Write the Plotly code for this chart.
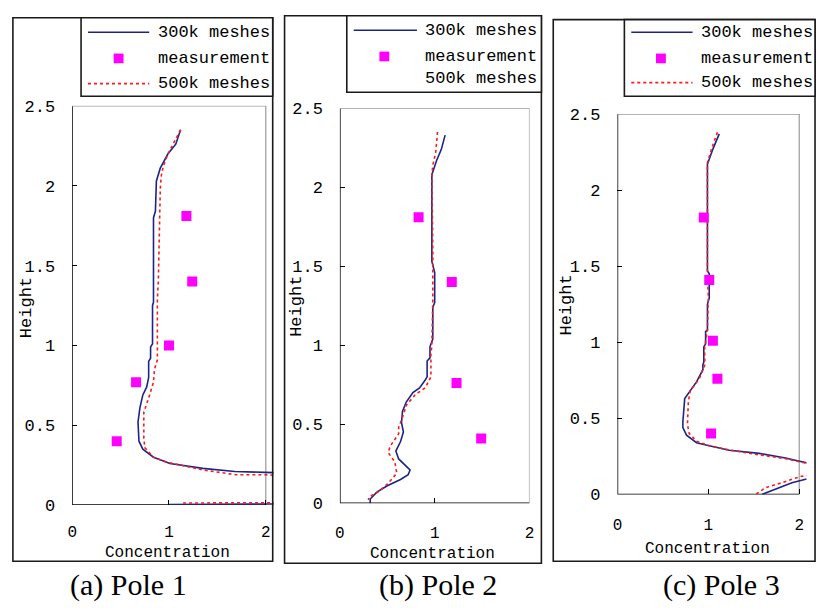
import plotly.graph_objects as go

W, H = 822, 613

# ---------------- data ----------------
# Pole 1
a_blue_c = [1.12, 1.07, 0.99, 0.91, 0.87, 0.86, 0.84, 0.84, 0.83, 0.83, 0.81, 0.81, 0.79, 0.79, 0.77, 0.73, 0.70, 0.68,
            0.69, 0.73, 0.84, 1.01, 1.35, 1.68, 1.99, 2.30, 2.50, 2.30, 2.08, 1.50, 1.00]
a_blue_h = [2.35, 2.26, 2.20, 2.11, 2.03, 1.84, 1.80, 1.27, 1.25, 1.01, 0.99, 0.92, 0.90, 0.80, 0.74, 0.69, 0.61, 0.52,
            0.40, 0.35, 0.30, 0.26, 0.23, 0.21, 0.205, 0.20, 0.10, 0.008, 0.007, 0.005, 0.004]
a_red_c = [1.12, 1.05, 0.99, 0.94, 0.92, 0.91, 0.90, 0.89, 0.88, 0.88, 0.85, 0.84, 0.80, 0.77, 0.74, 0.74, 0.75, 0.84,
           0.97, 1.35, 1.69, 1.99, 2.30, 2.50, 2.30, 2.08, 1.14]
a_red_h = [2.35, 2.27, 2.20, 2.12, 2.06, 1.98, 1.52, 1.40, 1.29, 0.91, 0.85, 0.77, 0.69, 0.63, 0.58, 0.42, 0.36, 0.30,
           0.27, 0.22, 0.19, 0.19, 0.18, 0.10, 0.016, 0.015, 0.013]
a_meas_c = [0.46, 0.66, 1.00, 1.24, 1.18]
a_meas_h = [0.40, 0.77, 1.00, 1.40, 1.81]

# Pole 2
b_blue_c = [1.11, 1.07, 1.02, 0.99, 0.97, 0.97, 1.00, 1.00, 0.98, 0.98, 0.95, 0.95, 0.92, 0.92, 0.90, 0.84, 0.77, 0.70,
            0.66, 0.65, 0.67, 0.64, 0.59, 0.62, 0.69, 0.74, 0.72, 0.64, 0.50, 0.39, 0.32, 0.32]
b_blue_h = [2.33, 2.24, 2.17, 2.12, 2.08, 1.53, 1.46, 1.27, 1.24, 1.04, 0.99, 0.92, 0.90, 0.80, 0.78, 0.73, 0.70, 0.64,
            0.58, 0.51, 0.45, 0.39, 0.33, 0.28, 0.24, 0.21, 0.18, 0.15, 0.11, 0.07, 0.026, 0.0]
b_red_c = [1.03, 1.02, 1.01, 0.98, 0.97, 0.98, 0.98, 0.97, 0.96, 0.96, 0.93, 0.90, 0.80, 0.70, 0.67, 0.62, 0.62, 0.53,
           0.51, 0.58, 0.60, 0.50, 0.40, 0.31, 0.30]
b_red_h = [2.35, 2.28, 2.22, 2.14, 2.08, 1.60, 1.30, 1.00, 0.94, 0.80, 0.76, 0.73, 0.69, 0.62, 0.56, 0.48, 0.44, 0.36,
           0.32, 0.26, 0.19, 0.12, 0.07, 0.04, 0.02]
b_meas_c = [1.49, 1.23, 1.18, 0.83]
b_meas_h = [0.41, 0.76, 1.40, 1.81]

# Pole 3
c_blue_c = [1.12, 1.05, 0.99, 0.99, 1.01, 1.01, 0.99, 0.99, 0.97, 0.97, 0.95, 0.95, 0.94, 0.94, 0.87, 0.78, 0.74, 0.72,
            0.72, 0.76, 0.87, 1.01, 1.23, 1.56, 1.85, 1.99, 2.07, 2.30, 2.30, 2.07, 1.92, 1.78, 1.59]
c_blue_h = [2.37, 2.27, 2.17, 1.47, 1.45, 1.29, 1.25, 1.08, 1.07, 0.99, 0.97, 0.87, 0.85, 0.82, 0.74, 0.66, 0.63, 0.48,
            0.44, 0.39, 0.34, 0.32, 0.29, 0.27, 0.24, 0.22, 0.21, 0.18, 0.12, 0.10, 0.077, 0.045, 0.0]
c_red_c = [1.10, 1.04, 0.99, 0.99, 1.00, 0.99, 0.96, 0.96, 0.90, 0.80, 0.78, 0.77, 0.79, 0.87, 1.01, 1.25, 1.56, 1.85,
           2.04, 2.30, 2.30, 2.03, 1.92, 1.81, 1.63, 1.52]
c_red_h = [2.38, 2.28, 2.18, 1.45, 1.30, 1.08, 0.97, 0.85, 0.76, 0.68, 0.61, 0.46, 0.40, 0.35, 0.32, 0.29, 0.26, 0.235,
           0.21, 0.18, 0.14, 0.12, 0.10, 0.077, 0.045, 0.0]
c_meas_c = [1.03, 1.10, 1.05, 1.01, 0.95]
c_meas_h = [0.40, 0.76, 1.01, 1.41, 1.82]

x_tickvals = [0, 1, 2]
x_ticktext = ["0", "1", "2"]
y_tickvals = [0, 0.5, 1, 1.5, 2, 2.5]
y_ticktext = ["0", "0.5", "1", "1.5", "2", "2.5"]
series_names = ["300k meshes", "measurement", "500k meshes"]
captions = ["(a) Pole 1", "(b) Pole 2", "(c) Pole 3"]

BLUE = "#1c2488"
RED = "#ff1a1a"
MAG = "#ff00ff"
MONO = "Liberation Mono"
SERIF = "Liberation Serif"


def pxx(x):
    return x / W


def pyy(y):
    return 1 - y / H


panels = [
    dict(data=(a_blue_c, a_blue_h, a_red_c, a_red_h, a_meas_c, a_meas_h),
         x0=68, kx=98, y0=513, ky=164.8, xmax=2.08, xstand=15,
         frame=(8, 10, 271, 571), legend=(77, 10, 271, 91), leg_x=(84, 146, 115, 153),
         leg_y=(25, 52, 78), red_glyph=True, height_pos=(22, 309), conc_pos=(164, 562),
         cap_pos=(125, 595)),
    dict(data=(b_blue_c, b_blue_h, b_red_c, b_red_h, b_meas_c, b_meas_h),
         x0=339, kx=96, y0=511, ky=163, xmax=2.0, xstand=18,
         frame=(283, 8, 543, 573), legend=(346, 8, 543, 87), leg_x=(353, 417, 384, 423),
         leg_y=(23, 50, 73), red_glyph=False, height_pos=(295, 308), conc_pos=(433, 563),
         cap_pos=(438, 595)),
    dict(data=(c_blue_c, c_blue_h, c_red_c, c_red_h, c_meas_c, c_meas_h),
         x0=620, kx=92, y0=502, ky=157, xmax=2.08, xstand=19,
         frame=(555, 12, 820, 571), legend=(627, 12, 820, 91), leg_x=(634, 696, 664, 703),
         leg_y=(25, 52, 77), red_glyph=True, height_pos=(568, 307), conc_pos=(711, 558),
         cap_pos=(725, 595)),
]

fig = go.Figure()
shapes = []
annotations = []
layout = {}

for i, p in enumerate(panels):
    n = "" if i == 0 else str(i + 1)
    xa, ya = "x" + n, "y" + n
    bc, bh, rc, rh, mc, mh = p["data"]
    fig.add_trace(go.Scatter(x=bc, y=bh, mode="lines", line=dict(color=BLUE, width=1.6),
                             xaxis=xa, yaxis=ya, showlegend=False, name=series_names[0]))
    fig.add_trace(go.Scatter(x=rc, y=rh, mode="lines", line=dict(color=RED, width=1.6, dash="3px,3px"),
                             xaxis=xa, yaxis=ya, showlegend=False, name=series_names[2]))
    fig.add_trace(go.Scatter(x=mc, y=mh, mode="markers",
                             marker=dict(symbol="square", size=10, color=MAG, line=dict(width=0)),
                             xaxis=xa, yaxis=ya, showlegend=False, name=series_names[1]))

    ymax = 2.5
    xdom = [pxx(p["x0"]), pxx(p["x0"] + p["xmax"] * p["kx"])]
    ydom = [pyy(p["y0"]), pyy(p["y0"] - ymax * p["ky"])]
    layout["xaxis" + n] = dict(domain=xdom, range=[0, p["xmax"]], anchor=ya, showgrid=False, zeroline=False,
                               showline=False, tickvals=x_tickvals, ticktext=x_ticktext, ticks="inside",
                               ticklen=5, tickcolor="black", tickwidth=1, ticklabelstandoff=p["xstand"],
                               tickfont=dict(family=MONO, size=16, color="black"))
    layout["yaxis" + n] = dict(domain=ydom, range=[0, ymax], anchor=xa, showgrid=False, zeroline=False,
                               showline=False, tickvals=y_tickvals, ticktext=y_ticktext, ticks="inside",
                               ticklen=5, tickcolor="black", tickwidth=1, ticklabelstandoff=16,
                               tickfont=dict(family=MONO, size=17, color="black"))
    # plot box: black left/bottom, gray top/right
    shapes += [
        dict(type="line", xref=xa, yref=ya, x0=0, y0=0, x1=0, y1=ymax, line=dict(color="black", width=1.5), layer="below"),
        dict(type="line", xref=xa, yref=ya, x0=0, y0=0, x1=2, y1=0, line=dict(color="black", width=1.5), layer="below"),
        dict(type="line", xref=xa, yref=ya, x0=0, y0=ymax, x1=2, y1=ymax, line=dict(color="#9a9a9a", width=1.2), layer="below"),
        dict(type="line", xref=xa, yref=ya, x0=2, y0=0, x1=2, y1=ymax, line=dict(color="#9a9a9a", width=1.2), layer="below"),
    ]
    # outer frame
    fx0, fy0, fx1, fy1 = p["frame"]
    shapes.append(dict(type="rect", xref="paper", yref="paper", x0=pxx(fx0), y0=pyy(fy1), x1=pxx(fx1), y1=pyy(fy0),
                       line=dict(color="#1a1a1a", width=1.6), fillcolor="rgba(0,0,0,0)"))
    # legend box
    lx0, ly0, lx1, ly1 = p["legend"]
    shapes.append(dict(type="rect", xref="paper", yref="paper", x0=pxx(lx0), y0=pyy(ly1), x1=pxx(lx1), y1=pyy(ly0),
                       line=dict(color="#1a1a1a", width=1.6), fillcolor="white"))
    gx0, gx1, sqx, tx = p["leg_x"]
    g1, g2, g3 = p["leg_y"]
    shapes.append(dict(type="line", xref="paper", yref="paper", x0=pxx(gx0), y0=pyy(g1), x1=pxx(gx1), y1=pyy(g1),
                       line=dict(color=BLUE, width=1.6)))
    shapes.append(dict(type="rect", xref="paper", yref="paper", x0=pxx(sqx - 5), y0=pyy(g2 + 5), x1=pxx(sqx + 5),
                       y1=pyy(g2 - 5), line=dict(width=0), fillcolor=MAG))
    if p["red_glyph"]:
        shapes.append(dict(type="line", xref="paper", yref="paper", x0=pxx(gx0), y0=pyy(g3), x1=pxx(gx1), y1=pyy(g3),
                           line=dict(color=RED, width=1.6, dash="3px,3px")))
    for name, gy in zip(series_names, (g1, g2, g3)):
        annotations.append(dict(text=name, xref="paper", yref="paper", x=pxx(tx), y=pyy(gy), xanchor="left",
                                yanchor="middle", showarrow=False, font=dict(family=MONO, size=17, color="black")))
    hx, hy = p["height_pos"]
    annotations.append(dict(text="Height", xref="paper", yref="paper", x=pxx(hx), y=pyy(hy), xanchor="center",
                            yanchor="middle", textangle=-90, showarrow=False,
                            font=dict(family=MONO, size=17, color="black")))
    cx, cy = p["conc_pos"]
    annotations.append(dict(text="Concentration", xref="paper", yref="paper", x=pxx(cx), y=pyy(cy),
                            xanchor="center", yanchor="middle", showarrow=False,
                            font=dict(family=MONO, size=16, color="black")))
    kx_, ky_ = p["cap_pos"]
    annotations.append(dict(text=captions[i], xref="paper", yref="paper", x=pxx(kx_), y=pyy(ky_),
                            xanchor="center", yanchor="middle", showarrow=False,
                            font=dict(family=SERIF, size=30, color="black")))

fig.update_layout(
    width=W, height=H, margin=dict(l=0, r=0, t=0, b=0),
    paper_bgcolor="white", plot_bgcolor="white",
    shapes=shapes, annotations=annotations, showlegend=False,
    **layout,
)

fig.write_html("out.html")
